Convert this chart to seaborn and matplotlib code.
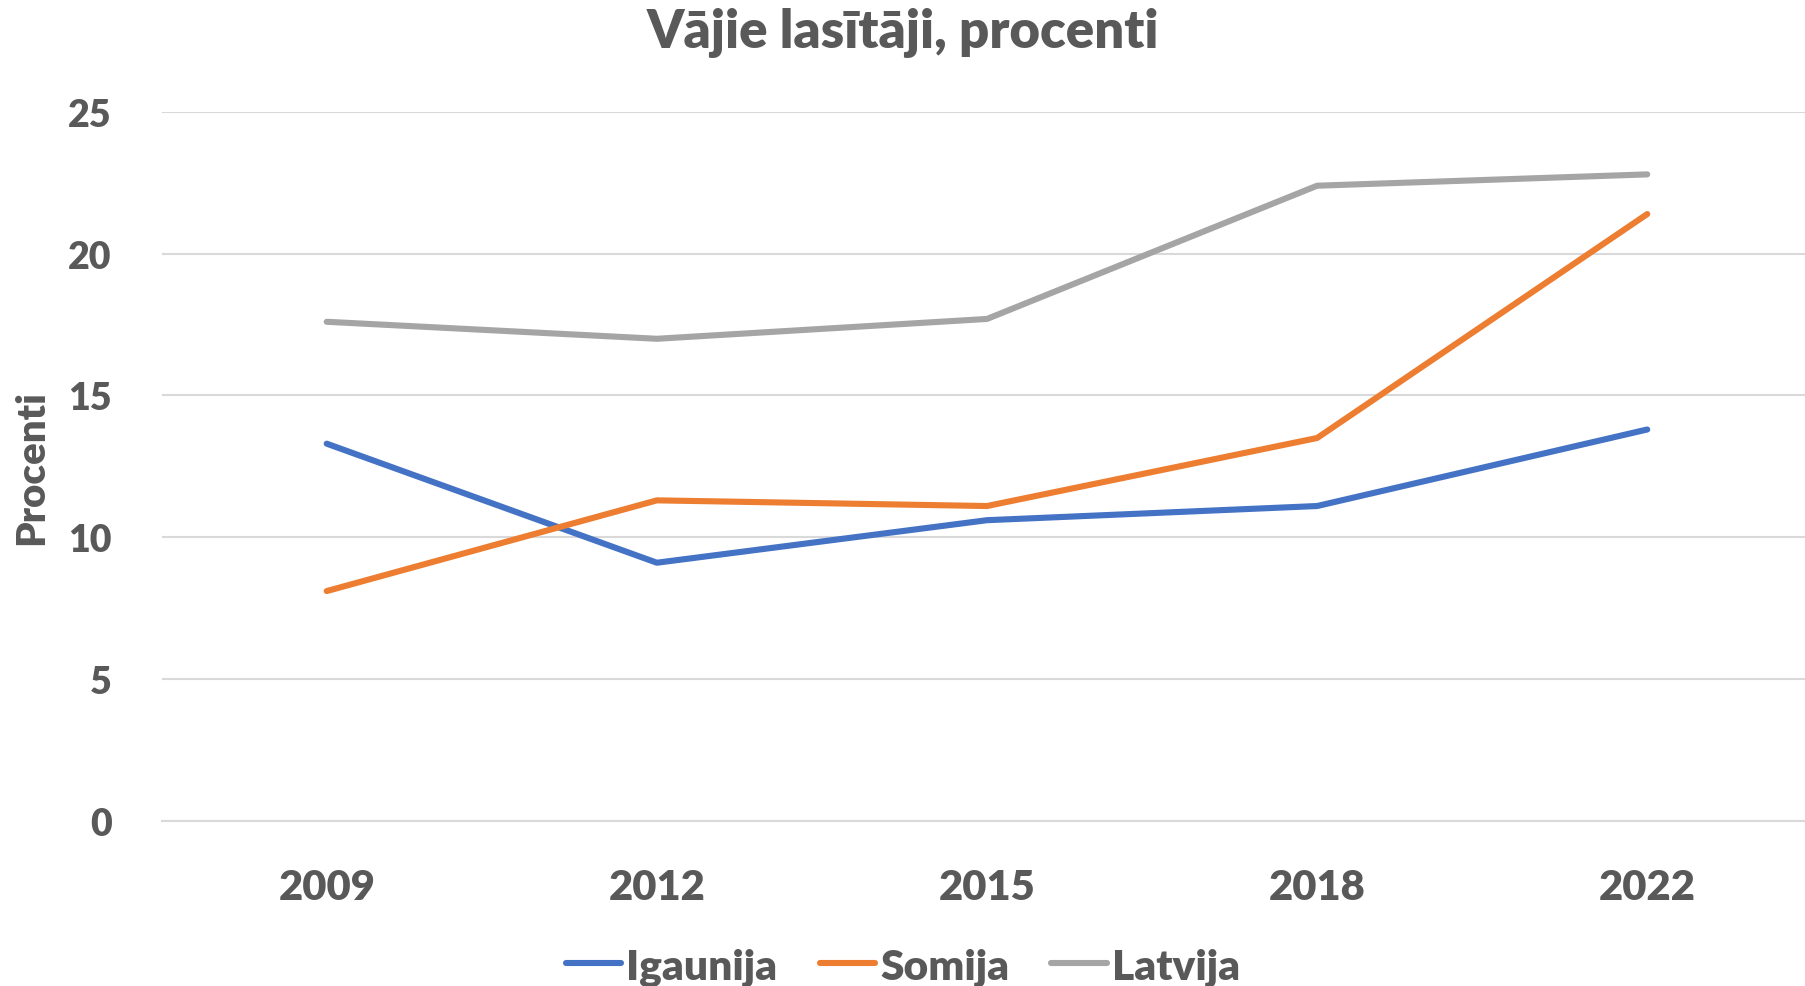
import matplotlib
matplotlib.use("Agg")
import matplotlib.pyplot as plt
import seaborn as sns
import pandas as pd

years = ["2009", "2012", "2015", "2018", "2022"]
igaunija = [13.3, 9.1, 10.6, 11.1, 13.8]
somija = [8.1, 11.3, 11.1, 13.5, 21.4]
latvija = [17.6, 17.0, 17.7, 22.4, 22.8]
countries = ["Igaunija", "Somija", "Latvija"]
colors = ["#4472C4", "#ED7D31", "#A5A5A5"]

df = pd.DataFrame({
    "Gads": years * 3,
    "Procenti": igaunija + somija + latvija,
    "Valsts": [c for c in countries for _ in years],
})

sns.set_theme(style="white")
plt.rcParams["font.family"] = ["Lato", "DejaVu Sans"]
text_col = "#595959"
wt = "heavy"

fig = plt.figure(figsize=(18.06, 9.87), dpi=100)
ax = fig.add_axes([0.0895, 0.1675, 0.914, 0.718])

sns.lineplot(data=df, x="Gads", y="Procenti", hue="Valsts", hue_order=countries,
             palette=colors, linewidth=4.4, ax=ax, legend=True,
             solid_capstyle="round")

ax.set_xlim(-0.5, 4.5)
ax.set_ylim(0, 25)
ax.set_yticks([0, 5, 10, 15, 20, 25])
ax.yaxis.grid(True, color="#D9D9D9", linewidth=1.5)
ax.xaxis.grid(False)
for s in ax.spines.values():
    s.set_visible(False)
ax.spines["bottom"].set_visible(True)
ax.spines["bottom"].set_color("#D9D9D9")
ax.spines["bottom"].set_linewidth(1.5)

ax.tick_params(axis="y", labelsize=27, labelcolor=text_col, length=0, pad=36)
ax.tick_params(axis="x", labelsize=30, labelcolor=text_col, length=0, pad=34)
for lbl in ax.get_xticklabels() + ax.get_yticklabels():
    lbl.set_fontweight(wt)

ax.set_xlabel("")
ax.set_ylabel("Procenti", fontsize=29, fontweight=wt, color=text_col, labelpad=13)

fig.suptitle("Vājie lasītāji, procenti", fontsize=38, fontweight=wt,
             color=text_col, x=0.5, y=0.992, va="top")

handles, labels = ax.get_legend_handles_labels()
leg = fig.legend(handles, labels, loc="center", bbox_to_anchor=(0.5, 0.02),
                 ncol=3, frameon=False, handlelength=1.3, handletextpad=0.12,
                 columnspacing=1.0, prop={"size": 30.5, "weight": wt})
for t in leg.get_texts():
    t.set_color(text_col)
for h in leg.get_lines():
    h.set_linewidth(4.4)
    h.set_solid_capstyle("round")
ax.get_legend().remove()

fig.savefig("out.png", dpi=100)
